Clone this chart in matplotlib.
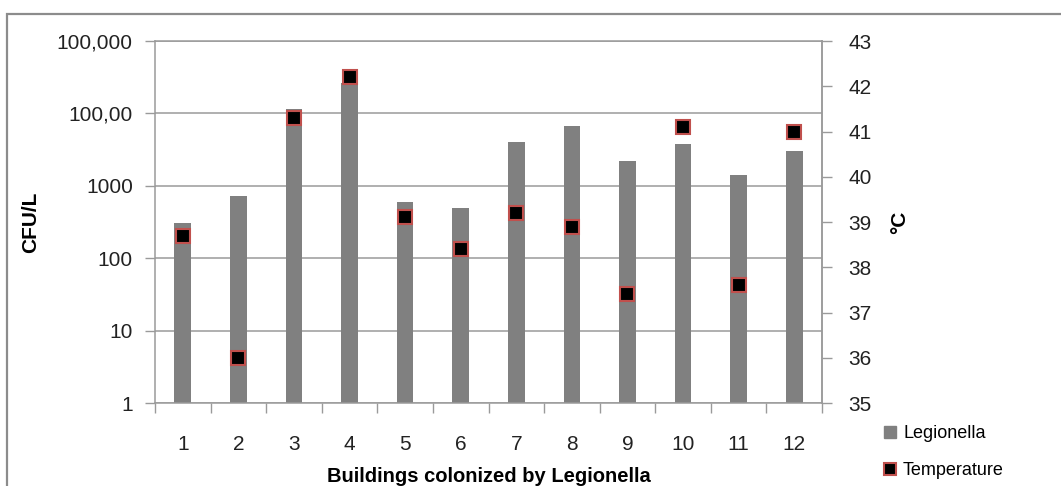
import numpy as np
import matplotlib
matplotlib.use("Agg")
import matplotlib.pyplot as plt
from matplotlib.lines import Line2D
from matplotlib.patches import Rectangle

plt.rcParams['font.family'] = ['Liberation Sans', 'DejaVu Sans']

buildings = ["1", "2", "3", "4", "5", "6", "7", "8", "9", "10", "11", "12"]
legionella = [310, 720, 11400, 26000, 600, 500, 4000, 6700, 2200, 3800, 1400, 3000]
temperature = [38.7, 36.0, 41.3, 42.2, 39.1, 38.4, 39.2, 38.9, 37.4, 41.1, 37.6, 41.0]
cfu_ticks = [1, 10, 100, 1000, 10000, 100000]
cfu_labels = ["1", "10", "100", "1000", "100,00", "100,000"]
temp_ticks = [35, 36, 37, 38, 39, 40, 41, 42, 43]

grey = "#808080"
axis_grey = "#9a9a9a"

fig = plt.figure(figsize=(10.61, 4.86), dpi=100)
fig.patches.append(Rectangle((7 / 1061, -0.1), 1.2, (486 - 14) / 486 + 0.1,
                             transform=fig.transFigure, fill=False,
                             edgecolor="#8c8c8c", linewidth=1.6))

ax = fig.add_axes([155 / 1061, 83 / 486, 667 / 1061, 362 / 486])
x = np.arange(len(buildings))

ax.bar(x, legionella, width=0.3, color=grey, zorder=2)
ax.set_yscale("log")
ax.set_ylim(1, 100000)
ax.set_xlim(-0.5, len(buildings) - 0.5)
ax.set_yticks(cfu_ticks)
ax.set_yticklabels(cfu_labels)
ax.minorticks_off()
ax.yaxis.grid(True, color=axis_grey, linewidth=1.1, zorder=0)
ax.set_axisbelow(True)

ax.set_xticks(x)
ax.set_xticklabels(buildings)
ax.set_xticks(np.arange(-0.5, len(buildings), 1), minor=True)
ax.tick_params(axis="x", which="major", length=0, pad=23, labelsize=15, colors="#222222")
ax.tick_params(axis="x", which="minor", length=7, width=1, color=axis_grey, direction="out")
ax.tick_params(axis="y", which="major", length=7, width=1, color=axis_grey, pad=9,
               labelsize=15, labelcolor="#222222")

for side in ["left", "bottom", "right", "top"]:
    ax.spines[side].set_color(axis_grey)
    ax.spines[side].set_linewidth(1.1)

ax.set_ylabel("CFU/L", fontsize=15, fontweight="bold")
ax.yaxis.set_label_coords(-0.172, 0.5)
ax.set_xlabel("Buildings colonized by Legionella", fontsize=14.5, fontweight="bold")
ax.xaxis.set_label_coords(0.5, -0.177)

ax2 = ax.twinx()
ax2.plot(x, temperature, linestyle="none", marker="s", markersize=10.5,
         markerfacecolor="black", markeredgecolor="#c0504d", markeredgewidth=1.5, zorder=3)
ax2.set_ylim(35, 43)
ax2.set_yticks(temp_ticks)
ax2.tick_params(axis="y", length=7, width=1, color=axis_grey, pad=12,
                labelsize=15, labelcolor="#222222")
for side in ["top", "left", "bottom"]:
    ax2.spines[side].set_visible(False)
ax2.spines["right"].set_color(axis_grey)
ax2.spines["right"].set_linewidth(1.1)
ax2.set_ylabel("°C", fontsize=15, fontweight="bold", rotation=90)
ax2.yaxis.set_label_coords(1.102, 0.5)

handles = [
    Line2D([], [], linestyle="none", marker="s", markersize=8,
           markerfacecolor=grey, markeredgecolor=grey),
    Line2D([], [], linestyle="none", marker="s", markersize=8,
           markerfacecolor="black", markeredgecolor="#c0504d", markeredgewidth=1.5),
]
fig.legend(handles, ["Legionella", "Temperature"], loc="upper left",
           bbox_to_anchor=(876 / 1061, 1 - 418 / 486), frameon=False,
           fontsize=13, handlelength=0.8, handletextpad=0.3, labelspacing=1.1,
           borderaxespad=0)

fig.savefig("out.png", dpi=100)
